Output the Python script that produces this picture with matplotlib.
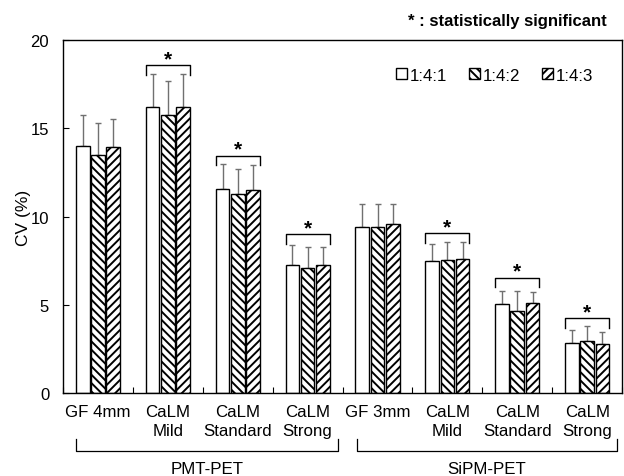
import numpy as np
import matplotlib
matplotlib.use("Agg")
import matplotlib.pyplot as plt
from matplotlib.patches import Patch

plt.rcParams["font.family"] = ["Liberation Sans", "DejaVu Sans"]
plt.rcParams["hatch.linewidth"] = 1.4

# data
categories = ["GF 4mm", "CaLM\nMild", "CaLM\nStandard", "CaLM\nStrong",
              "GF 3mm", "CaLM\nMild", "CaLM\nStandard", "CaLM\nStrong"]
series = ["1:4:1", "1:4:2", "1:4:3"]
cv_141 = [14.0, 16.2, 11.55, 7.23, 9.43, 7.48, 5.04, 2.86]
cv_142 = [13.46, 15.75, 11.25, 7.08, 9.42, 7.53, 4.62, 2.93]
cv_143 = [13.94, 16.2, 11.51, 7.23, 9.6, 7.6, 5.1, 2.8]
sd_141 = [1.75, 1.9, 1.41, 1.17, 1.27, 0.99, 0.73, 0.69]
sd_142 = [1.83, 1.92, 1.46, 1.22, 1.28, 1.05, 1.15, 0.87]
sd_143 = [1.61, 1.9, 1.41, 1.04, 1.1, 0.98, 0.63, 0.64]
sig_groups = [1, 2, 3, 5, 6, 7]
sig_level = [18.57, 13.45, 9.0, 9.05, 6.54, 4.25]
systems = ["PMT-PET", "SiPM-PET"]

values = [cv_141, cv_142, cv_143]
errors = [sd_141, sd_142, sd_143]
hatches = ["", "\\\\\\\\", "////"]

fig = plt.figure(figsize=(6.24, 4.77), dpi=100)
ax = fig.add_axes([0.101, 0.174, 0.896, 0.740])

x = np.arange(len(categories))
step = 0.218
width = 0.195
for i, (vals, errs, h) in enumerate(zip(values, errors, hatches)):
    pos = x + (i - 1) * step
    ax.errorbar(pos, vals, yerr=[np.zeros(len(errs)), errs], fmt="none",
                ecolor="#707070", elinewidth=1.0, capsize=2, capthick=1.0, zorder=1)
    ax.bar(pos, vals, width, color="white", edgecolor="black", linewidth=1.0,
           hatch=h, zorder=2)

# significance brackets
for g, lvl in zip(sig_groups, sig_level):
    left = g - step - width / 2
    right = g + step + width / 2
    ax.plot([left, left, right, right], [lvl - 0.55, lvl, lvl, lvl - 0.55],
            color="black", lw=1.0, zorder=3)
    ax.text(g, lvl + 0.05, "*", ha="center", va="baseline", fontsize=15,
            fontweight="bold")

ax.set_xlim(-0.5, len(categories) - 0.5)
ax.set_ylim(0, 20)
ax.set_yticks([0, 5, 10, 15, 20])
ax.set_ylabel("CV (%)", fontsize=12.5, labelpad=0)
ax.set_xticks(np.arange(len(categories) + 1) - 0.5)
ax.set_xticklabels([])
ax.tick_params(axis="both", direction="in", length=4, labelsize=12)
ax.tick_params(axis="y", pad=10)
for s in ax.spines.values():
    s.set_linewidth(1.0)

# category labels under each group
for xi, lab in zip(x, categories):
    ax.text(xi, -0.6, lab, ha="center", va="top", fontsize=12.2,
            linespacing=1.35, clip_on=False)

# system brackets
sys_spans = [(-0.31, 3.43), (3.7, 7.43)]
for name, (a, b) in zip(systems, sys_spans):
    ax.plot([a, a, b, b], [-2.6, -3.3, -3.3, -2.6], color="black", lw=0.9,
            clip_on=False)
    ax.text((a + b) / 2, -4.25, name, ha="center", va="center", fontsize=12.2,
            clip_on=False)

handles = [Patch(facecolor="white", edgecolor="black", hatch=h, label=s)
           for s, h in zip(series, hatches)]
ax.legend(handles=handles, loc="upper right", ncol=3, frameon=False,
          fontsize=12.2, handlelength=0.65, handleheight=0.65, handletextpad=0.15,
          columnspacing=1.3, bbox_to_anchor=(0.975, 0.965))

fig.text(0.973, 0.955, "* : statistically significant", ha="right", va="center",
         fontsize=12, fontweight="bold")

fig.savefig("out.png", dpi=100)
